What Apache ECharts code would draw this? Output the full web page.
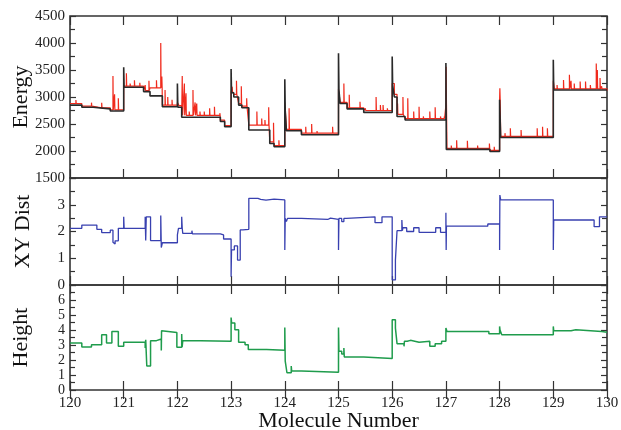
<!DOCTYPE html>
<html>
<head>
<meta charset="utf-8">
<script src="https://cdn.jsdelivr.net/npm/echarts@6/dist/echarts.min.js"></script>
<style>
html, body { margin: 0; padding: 0; background: #fff; }
#chart { width: 621px; height: 430px; }
</style>
</head>
<body>
<div id="chart"></div>
<script>
// Molecule number axis
const xMin = 120;
const xMax = 130;

// Lowest energy reached so far (black step line): [molecule, energy]
const energyLowest = [
  [120.00, 2850], [120.22, 2810], [120.43, 2780], [120.75, 2740],
  [121.00, 3550], [121.008, 3180], [121.37, 3100], [121.49, 3020], [121.72, 2820],
  [122.00, 3250], [122.008, 2810], [122.08, 2625], [122.80, 2545], [122.88, 2450],
  [123.00, 3520], [123.008, 3080], [123.05, 3000], [123.14, 2850], [123.20, 2800], [123.33, 2390], [123.72, 2140], [123.80, 2080],
  [124.00, 3330], [124.008, 2750], [124.03, 2375], [124.31, 2300],
  [125.00, 3810], [125.008, 3130], [125.03, 2880], [125.16, 2780], [125.47, 2715],
  [126.00, 3750], [126.008, 3220], [126.04, 3000], [126.09, 2640], [126.24, 2575],
  [127.00, 3630], [127.008, 2030], [127.82, 1990],
  [128.00, 2950], [128.02, 2250],
  [129.00, 3690], [129.008, 3130], [130.00, 3130]
];

// Trial energy (red): resting levels and the individual excursions above them
const energyLevels = [
  [120.00, 2880], [120.22, 2830], [120.43, 2800], [120.75, 2760],
  [121.00, 3200], [121.37, 3120], [121.49, 3170], [121.72, 2850],
  [122.00, 2900], [122.03, 2840], [122.08, 2660], [122.80, 2570], [122.88, 2470],
  [123.00, 3100], [123.05, 3050], [123.14, 2880], [123.20, 2830], [123.33, 2480], [123.72, 2170], [123.80, 2100],
  [124.00, 2900], [124.03, 2400], [124.31, 2330],
  [125.00, 3150], [125.03, 2900], [125.16, 2800], [125.47, 2750],
  [126.00, 3250], [126.04, 3050], [126.09, 2680], [126.24, 2600],
  [127.00, 2850], [127.02, 2050], [127.82, 2010],
  [128.00, 2950], [128.02, 2270],
  [129.00, 3300], [129.02, 3150], [130.00, 3120]
];
const energySpikes = [
  [120.11, 2945], [120.30, 2860], [120.40, 2895], [120.59, 2895], [120.70, 2830], [120.80, 3390], [120.83, 3050], [120.90, 2975],
  [121.05, 3440], [121.12, 3250], [121.20, 3310], [121.30, 3265], [121.40, 3220], [121.47, 3300], [121.57, 3190], [121.61, 3310],
  [121.69, 4000], [121.71, 3380], [121.77, 3130], [121.82, 3000], [121.90, 2950],
  [122.09, 3390], [122.13, 3250], [122.16, 3070], [122.22, 2730], [122.29, 3130], [122.33, 2900], [122.36, 2880], [122.42, 2730],
  [122.50, 2730], [122.60, 2790], [122.69, 2820], [122.79, 2700],
  [123.02, 3190], [123.10, 3300], [123.19, 3200], [123.29, 2975], [123.48, 2730], [123.57, 2600], [123.63, 2575], [123.70, 2810],
  [123.79, 2525], [123.89, 2200],
  [124.015, 2900], [124.08, 2790], [124.16, 2420], [124.39, 2450], [124.50, 2500], [124.60, 2370], [124.71, 2360], [124.78, 2360], [124.89, 2450],
  [125.015, 3150], [125.10, 3250], [125.20, 3040], [125.29, 2820], [125.40, 2910], [125.50, 2790], [125.60, 2760], [125.70, 3000],
  [125.78, 2850], [125.83, 2850], [125.91, 2790],
  [126.02, 3280], [126.10, 2880], [126.20, 3000], [126.29, 2975], [126.40, 2730], [126.50, 2820], [126.58, 2640], [126.70, 2730],
  [126.80, 2810], [126.90, 2640], [126.97, 2640],
  [127.005, 3560], [127.10, 2100], [127.20, 2200], [127.30, 2080], [127.40, 2190], [127.50, 2080], [127.59, 2100], [127.70, 2080],
  [127.81, 2140], [127.90, 2080],
  [128.005, 3160], [128.10, 2330], [128.20, 2420], [128.31, 2300], [128.40, 2390], [128.50, 2290], [128.60, 2300], [128.70, 2420],
  [128.80, 2450], [128.89, 2420],
  [129.07, 3220], [129.19, 3315], [129.30, 3410], [129.33, 3300], [129.39, 3250], [129.50, 3285], [129.60, 3285], [129.69, 3220],
  [129.80, 3620], [129.82, 3500], [129.87, 3350], [129.90, 3200]
];

// In-plane (XY) distance
const xyDist = [
  [120.00, 2.12], [120.22, 2.24], [120.50, 2.08], [120.59, 1.96], [120.75, 2.05], [120.80, 1.60], [120.82, 1.53], [120.84, 1.65], [120.90, 2.12],
  [121.00, 2.55], [121.008, 2.12], [121.40, 2.55], [121.41, 1.66], [121.42, 2.55], [121.50, 1.66], [121.69, 2.60], [121.70, 1.40], [121.72, 1.58],
  [122.00, 1.87], [122.02, 2.12], [122.08, 2.55], [122.09, 2.12], [122.10, 1.93], [122.27, 2.03], [122.28, 1.91], [122.80, 1.87], [122.86, 1.72],
  [123.00, 0.31], [123.008, 1.31], [123.06, 1.46], [123.12, 0.93], [123.17, 2.06], [123.22, 2.08],
  [123.33, 3.24], [123.50, 3.20], [123.55, 3.17], [123.65, 3.21], [123.80, 3.18],
  [124.00, 1.31], [124.008, 2.49], [124.03, 2.37], [124.05, 2.49], [124.31, 2.45], [124.80, 2.50], [124.85, 2.45],
  [125.00, 1.31], [125.008, 2.49], [125.06, 2.37], [125.10, 2.49], [125.15, 2.55], [125.68, 2.33], [125.81, 2.55],
  [126.00, 0.19], [126.06, 0.93], [126.09, 2.03], [126.18, 2.43], [126.19, 2.03], [126.20, 2.14], [126.27, 2.00], [126.40, 2.14],
  [126.50, 1.97], [126.81, 2.14], [126.90, 1.97],
  [127.00, 2.70], [127.005, 1.31], [127.01, 2.20], [127.78, 2.28],
  [128.00, 1.31], [128.005, 3.36], [128.02, 3.18],
  [129.00, 1.31], [129.008, 2.43], [129.76, 2.18], [129.86, 2.55], [130.00, 2.55]
];

// Height above the surface
const heightVals = [
  [120.00, 3.13], [120.22, 2.87], [120.40, 3.02], [120.59, 3.69], [120.68, 3.13], [120.78, 3.90], [120.90, 2.91],
  [121.00, 3.18], [121.40, 2.80], [121.41, 3.35], [121.43, 1.60], [121.50, 3.29], [121.61, 3.40],
  [121.70, 2.63], [121.705, 3.95], [121.71, 3.84], [121.99, 2.85], [122.08, 3.73], [122.088, 2.85], [122.10, 3.29], [122.43, 3.25],
  [123.00, 4.83], [123.01, 4.46], [123.07, 4.02], [123.14, 3.18], [123.26, 3.02], [123.32, 2.70], [123.66, 2.65],
  [124.00, 4.17], [124.008, 1.92], [124.04, 1.15], [124.12, 1.60], [124.128, 1.26], [124.31, 1.19],
  [125.00, 4.17], [125.008, 2.58], [125.06, 2.40], [125.10, 2.80], [125.108, 2.20], [125.47, 2.10],
  [126.00, 4.68], [126.06, 4.13], [126.09, 3.09], [126.22, 2.91], [126.228, 3.25], [126.28, 3.31], [126.34, 3.18], [126.50, 3.25],
  [126.70, 2.91], [126.80, 3.09], [126.92, 3.25],
  [127.00, 4.13], [127.02, 3.90], [127.80, 3.75],
  [128.00, 4.24], [128.008, 4.00], [128.04, 3.69],
  [129.00, 4.24], [129.008, 3.95], [129.33, 4.02], [129.42, 3.90], [129.90, 3.85], [130.00, 3.85]
];

// Merge resting levels with narrow excursions into one step sequence
function levelsWithSpikes(levels, spikes, width) {
  const pts = levels.map(p => p.slice());
  spikes.forEach(([x, y]) => {
    let lvl = levels[0][1];
    for (const [lx, ly] of levels) { if (lx <= x) lvl = ly; }
    pts.push([x, y], [x + width, lvl]);
  });
  pts.sort((a, b) => a[0] - b[0]);
  return pts;
}
const energyTrial = levelsWithSpikes(energyLevels, energySpikes, 0.006);

const FONT = 'Liberation Serif';
const INK = '#222';
const FRAME = '#333';

const grids = [
  { left: 70, right: 14, top: 16, height: 162 },
  { left: 70, right: 14, top: 178, height: 107 },
  { left: 70, right: 14, top: 285, height: 105 }
].map(g => Object.assign({
  show: true, borderColor: FRAME, borderWidth: 1.6, backgroundColor: 'transparent',
  containLabel: false, outerBoundsMode: 'none'
}, g));

const plainNumber = v => String(v);

function xAxisFor(gridIndex, position, withLabels) {
  return {
    type: 'value', gridIndex, position, min: xMin, max: xMax, interval: 1,
    axisLine: { show: false },
    axisTick: { show: true, inside: true, length: 9, lineStyle: { color: FRAME, width: 1.2 } },
    minorTick: { show: false },
    splitLine: { show: false },
    axisLabel: withLabels
      ? { show: true, fontFamily: FONT, fontSize: 15, color: INK, margin: 6, formatter: plainNumber, hideOverlap: false }
      : { show: false },
    name: withLabels ? 'Molecule Number' : '',
    nameLocation: 'middle',
    nameGap: 20,
    nameMoveOverlap: false,
    nameTextStyle: { fontFamily: FONT, fontSize: 22, color: '#111' }
  };
}

function yAxisFor(gridIndex, position, opts) {
  const labelled = position === 'left';
  return {
    type: 'value', gridIndex, position,
    min: opts.min, max: opts.max, interval: opts.interval,
    axisLine: { show: false },
    axisTick: { show: true, inside: true, length: 6, lineStyle: { color: FRAME, width: 1.2 } },
    minorTick: { show: true, splitNumber: 2, length: 5, lineStyle: { color: FRAME, width: 1.2 } },
    splitLine: { show: false },
    axisLabel: labelled
      ? {
          show: true, fontFamily: FONT, fontSize: opts.labelSize, color: INK, margin: 5,
          formatter: plainNumber, hideOverlap: false,
          showMaxLabel: opts.showMax
        }
      : { show: false },
    name: labelled ? opts.name : '',
    nameLocation: 'middle',
    nameGap: opts.gap,
    nameMoveOverlap: false,
    nameTextStyle: { fontFamily: FONT, fontSize: 22, color: '#111' }
  };
}

const energyAxis = { min: 1500, max: 4500, interval: 500, showMax: true, name: 'Energy', gap: 38, labelSize: 15 };
const xyAxis = { min: 0, max: 4, interval: 1, showMax: false, name: 'XY Dist', gap: 36, labelSize: 15 };
const heightAxis = { min: 0, max: 7, interval: 1, showMax: false, name: 'Height', gap: 38, labelSize: 14 };

const option = {
  animation: false,
  backgroundColor: '#fff',
  grid: grids,
  xAxis: [
    xAxisFor(0, 'bottom', false), xAxisFor(0, 'top', false),
    xAxisFor(1, 'bottom', false), xAxisFor(1, 'top', false),
    xAxisFor(2, 'bottom', true), xAxisFor(2, 'top', false)
  ],
  yAxis: [
    yAxisFor(0, 'left', energyAxis), yAxisFor(0, 'right', energyAxis),
    yAxisFor(1, 'left', xyAxis), yAxisFor(1, 'right', xyAxis),
    yAxisFor(2, 'left', heightAxis), yAxisFor(2, 'right', heightAxis)
  ],
  series: [
    {
      type: 'line', step: 'end', xAxisIndex: 0, yAxisIndex: 0, data: energyTrial,
      symbol: 'none', lineStyle: { color: '#f02a1c', width: 1.2 }, z: 2
    },
    {
      type: 'line', step: 'end', xAxisIndex: 0, yAxisIndex: 0, data: energyLowest,
      symbol: 'none', lineStyle: { color: '#2a2a2a', width: 1.6 }, z: 3
    },
    {
      type: 'line', step: 'end', xAxisIndex: 2, yAxisIndex: 2, data: xyDist,
      symbol: 'none', lineStyle: { color: '#3840b0', width: 1.3 }, z: 3
    },
    {
      type: 'line', step: 'end', xAxisIndex: 4, yAxisIndex: 4, data: heightVals,
      symbol: 'none', lineStyle: { color: '#1f9c4c', width: 1.5 }, z: 3
    }
  ]
};

const chart = echarts.init(document.getElementById('chart'), null, { renderer: 'canvas' });
chart.setOption(option);
</script>
</body>
</html>
